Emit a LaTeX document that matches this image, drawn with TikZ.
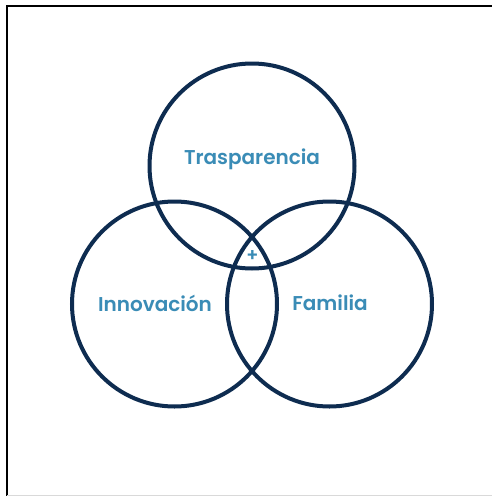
\documentclass[tikz,border=0pt]{standalone}
\usepackage{fontspec}
\setmainfont{Poppins}[BoldFont={Poppins SemiBold}]
\definecolor{navy}{HTML}{0E2C50}
\definecolor{teal}{HTML}{3A8CB6}
\tikzset{
  ring/.style={circle, draw=navy, line width=4pt, minimum size=205pt, inner sep=0pt},
  lbl/.style={text=teal, font=\bfseries\fontsize{20pt}{23pt}\selectfont, inner sep=0pt, anchor=center}
}
\begin{document}
\begin{tikzpicture}[x=1pt,y=-1pt]
\useasboundingbox (0,0) rectangle (492,496);
\fill[white] (0,0) rectangle (492,496);
% frame
\coordinate (fbl) at (7,496);
\coordinate (ftl) at (7,6);
\coordinate (ftr) at (492,6);
\draw[black, line width=2.2pt] (fbl) -- (ftl) -- (ftr);
\coordinate (bl) at (7,495);
\coordinate (br) at (492,495);
\draw[gray!30, line width=1pt] (bl) -- (br);
% circles
\node[ring] (top) at (252,166) {};
\node[ring] (left) at (174.5,304) {};
\node[ring] (right) at (329.5,304) {};
% labels
\node[lbl] (t1) at (252,159) {Trasparencia};
\node[lbl] (t2) at (155,303) {Innovación};
\node[lbl] (t3) at (330,303) {Familia};
\node[text=teal, font=\bfseries\fontsize{18pt}{20pt}\selectfont, inner sep=0pt] (plus) at (252.5,256) {+};
\end{tikzpicture}
\end{document}
